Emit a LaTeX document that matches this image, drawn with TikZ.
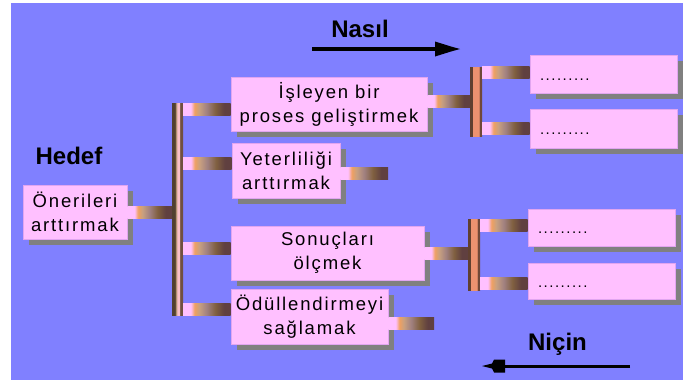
\documentclass[tikz,border=0pt]{standalone}
\usepackage{fontspec}
\setmainfont{Liberation Sans}
\newfontfamily\boxfont[LetterSpace=10]{Liberation Sans}
\usetikzlibrary{arrows.meta,shadows}

\definecolor{bgblue}{RGB}{128,128,255}
\definecolor{boxpink}{RGB}{255,192,255}
\definecolor{boxline}{RGB}{225,165,240}
\definecolor{shgray}{RGB}{128,128,128}
\definecolor{stA}{RGB}{255,192,255}
\definecolor{stB}{RGB}{240,160,96}
\definecolor{stC}{RGB}{200,160,128}
\definecolor{stD}{RGB}{160,128,128}
\definecolor{stE}{RGB}{128,96,64}
\definecolor{stF}{RGB}{96,64,64}
\definecolor{baA}{RGB}{80,64,48}
\definecolor{baB}{RGB}{176,144,112}
\definecolor{baC}{RGB}{248,192,200}
\definecolor{baD}{RGB}{112,80,64}
\definecolor{bbA}{RGB}{96,64,48}
\definecolor{bbB}{RGB}{236,146,112}
\definecolor{bbC}{RGB}{112,72,56}

% TikZ maps the range 25bp..75bp of a shading onto the path
\pgfdeclarehorizontalshading{stubsh}{100bp}{color(0bp)=(stA); color(25bp)=(stA); color(33bp)=(stA); color(37bp)=(stB); color(42bp)=(stC); color(50bp)=(stD); color(59bp)=(stE); color(68bp)=(stF); color(75bp)=(stF); color(100bp)=(stF)}
\pgfdeclarehorizontalshading{barsha}{100bp}{color(0bp)=(baA); color(38.5bp)=(baA); color(39.5bp)=(baB); color(47bp)=(baB); color(48bp)=(baC); color(60.5bp)=(baC); color(61.5bp)=(baD); color(100bp)=(baD)}
\pgfdeclarehorizontalshading{barshb}{100bp}{color(0bp)=(bbA); color(35bp)=(bbA); color(37bp)=(bbB); color(62bp)=(bbB); color(64bp)=(bbC); color(100bp)=(bbC)}

\tikzset{
  boxnode/.style={draw=boxline, line width=0.8pt, fill=boxpink, inner sep=0pt,
    align=center, font=\boxfont\fontsize{18.5}{24}\selectfont,
    general shadow={shadow xshift=6pt, shadow yshift=-6pt, fill=shgray, draw=none}},
  dotbox/.style={boxnode, font=\boxfont\fontsize{15}{18}\selectfont, align=left,
    inner xsep=10pt, text width=127pt, minimum width=147pt, text height=12pt, text depth=0pt},
  stubfill/.style={shading=stubsh, draw=none},
  barmain/.style={shading=barsha, draw=none, inner sep=0pt, minimum width=11pt},
  barside/.style={shading=barshb, draw=none, inner sep=0pt, minimum width=12pt},
  biglabel/.style={font=\bfseries\fontsize{24}{28}\selectfont, inner sep=0pt},
  arrowline/.style={draw=black},
  headfill/.style={fill=black}
}
\newcommand\stubH[3]{\path[stubfill] ([yshift=#3-6pt]#1) rectangle ([yshift=#3+6pt]#2);}

\begin{document}
\begin{tikzpicture}[x=1pt,y=-1pt]
\useasboundingbox (0,0) rectangle (683,383);
\fill[bgblue] (11,3) rectangle (683,380);

% labels
\node[biglabel] (hedef) at (69,156) {Hedef};
\node[biglabel] (nasil) at (360,28.5) {Nasıl};
\node[biglabel] (nicin) at (557.5,344) {Niçin};

% arrows
\coordinate (nasA) at (312,49);
\coordinate (nasB) at (460,49);
\draw[arrowline, line width=4pt] (nasA) -- ([xshift=-10pt]nasB);
\fill[headfill] ([shift={(-25pt,7.5pt)}]nasB) -- ([shift={(-9pt,2.5pt)}]nasB) -- (nasB)
  -- ([shift={(-9pt,-2.5pt)}]nasB) -- ([shift={(-25pt,-7.5pt)}]nasB) -- cycle;
\coordinate (nicA) at (630,366);
\coordinate (nicB) at (482,366);
\draw[arrowline, line width=3pt] (nicA) -- ([xshift=12pt]nicB);
\fill[headfill] (nicB) -- ([shift={(10pt,2.5pt)}]nicB) -- ([shift={(12pt,6.5pt)}]nicB)
  -- ([shift={(23pt,6.5pt)}]nicB) -- ([shift={(23pt,-6.5pt)}]nicB)
  -- ([shift={(12pt,-6.5pt)}]nicB) -- ([shift={(10pt,-2.5pt)}]nicB) -- cycle;

% boxes
\node[boxnode, minimum width=104pt, minimum height=54pt] (oner) at (75,212) {Önerileri\\arttırmak};
\node[boxnode, minimum width=196pt, minimum height=54pt] (isl) at (329,104) {İşleyen bir\\proses geliştirmek};
\node[boxnode, minimum width=108pt, minimum height=55pt] (yet) at (286,170.5) {Yeterliliği\\arttırmak};
\node[boxnode, minimum width=193pt, minimum height=54pt] (son) at (327.5,253) {Sonuçları\\ölçmek};
\node[boxnode, minimum width=157pt, minimum height=55pt] (odu) at (309.5,316.5) {Ödüllendirmeyi\\sağlamak};

\node[dotbox, minimum height=38pt] (d1) at (603.5,74) {.........};
\node[dotbox, minimum height=39pt] (d2) at (603.5,128.5) {.........};
\node[dotbox, minimum height=37pt] (d3) at (601.5,227.5) {.........};
\node[dotbox, minimum height=36pt] (d4) at (601.5,281) {.........};

% bars
\node[barmain, minimum height=212pt] (bar1) at (177.5,209) {};
\node[barside, minimum height=69pt] (bar2) at (476,101.5) {};
\node[barside, minimum height=71pt] (bar3) at (474,254.5) {};

% free ends
\coordinate (yetEnd) at (388,173);
\coordinate (oduEnd) at (434,323.5);

% stubs
\stubH{oner.east}{bar1.west |- oner.east}{0pt}
\stubH{bar1.east |- isl.west}{isl.west}{-5pt}
\stubH{bar1.east |- yet.west}{yet.west}{7.5pt}
\stubH{bar1.east |- son.west}{son.west}{5pt}
\stubH{bar1.east |- odu.west}{odu.west}{7.5pt}
\stubH{yet.east |- yetEnd}{yetEnd}{0pt}
\stubH{odu.east |- oduEnd}{oduEnd}{0pt}
\stubH{isl.east}{bar2.west |- isl.east}{3pt}
\stubH{bar2.east |- d1.west}{d1.west}{2pt}
\stubH{bar2.east |- d2.west}{d2.west}{0pt}
\stubH{son.east}{bar3.west |- son.east}{0pt}
\stubH{bar3.east |- d3.west}{d3.west}{2pt}
\stubH{bar3.east |- d4.west}{d4.west}{-2.5pt}
\end{tikzpicture}
\end{document}
